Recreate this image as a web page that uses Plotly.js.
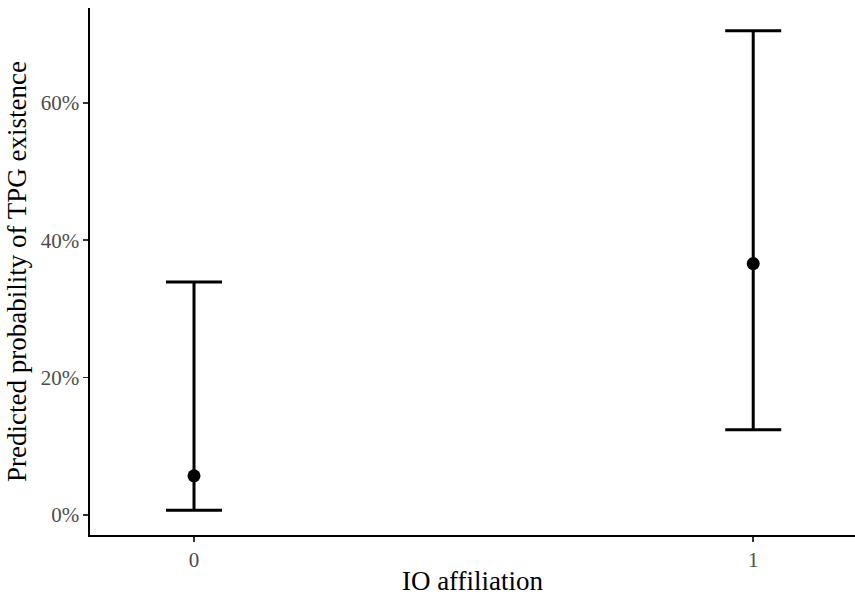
<!DOCTYPE html>
<html>
<head>
<meta charset="utf-8">
<script src="https://cdn.plot.ly/plotly-3.0.1.min.js"></script>
<style>html,body{margin:0;padding:0;background:#fff;}#chart{width:855px;height:596px;}</style>
</head>
<body>
<div id="chart"></div>
<script>
const categories = [0, 1];
const tickLabels = ["0", "1"];
const predicted = [0.057, 0.366];
const lower = [0.007, 0.124];
const upper = [0.339, 0.705];

const trace = {
  x: categories,
  y: predicted,
  type: 'scatter',
  mode: 'markers',
  marker: {color: '#000', size: 13},
  error_y: {
    type: 'data',
    symmetric: false,
    array: upper.map((u, i) => u - predicted[i]),
    arrayminus: predicted.map((p, i) => p - lower[i]),
    color: '#000',
    thickness: 3,
    width: 28
  },
  hoverinfo: 'skip'
};

const fontFam = '"Liberation Serif", "Times New Roman", serif';
const layout = {
  width: 855, height: 596,
  margin: {l: 90, r: 0, t: 8, b: 61},
  paper_bgcolor: '#fff', plot_bgcolor: '#fff',
  showlegend: false,
  font: {family: fontFam},
  xaxis: {
    range: [-0.186, 1.182],
    tickvals: categories,
    ticktext: tickLabels,
    showgrid: false, zeroline: false,
    showline: true, linecolor: '#000', linewidth: 1.6,
    ticks: 'outside', ticklen: 5, tickwidth: 1.5, tickcolor: '#333',
    tickfont: {family: fontFam, size: 21, color: '#4d4d4d'},
    title: {text: 'IO affiliation', font: {family: fontFam, size: 27, color: '#000'}, standoff: 6}
  },
  yaxis: {
    range: [-0.0291, 0.738],
    tickvals: [0, 0.2, 0.4, 0.6],
    tickformat: '.0%',
    showgrid: false, zeroline: false,
    showline: true, linecolor: '#000', linewidth: 1.6,
    ticks: 'outside', ticklen: 5, tickwidth: 1.5, tickcolor: '#333',
    tickfont: {family: fontFam, size: 21, color: '#4d4d4d'},
    title: {text: 'Predicted probability of TPG existence', font: {family: fontFam, size: 27, color: '#000'}, standoff: 6}
  }
};

Plotly.newPlot('chart', [trace], layout, {displayModeBar: false, staticPlot: true});
</script>
</body>
</html>
